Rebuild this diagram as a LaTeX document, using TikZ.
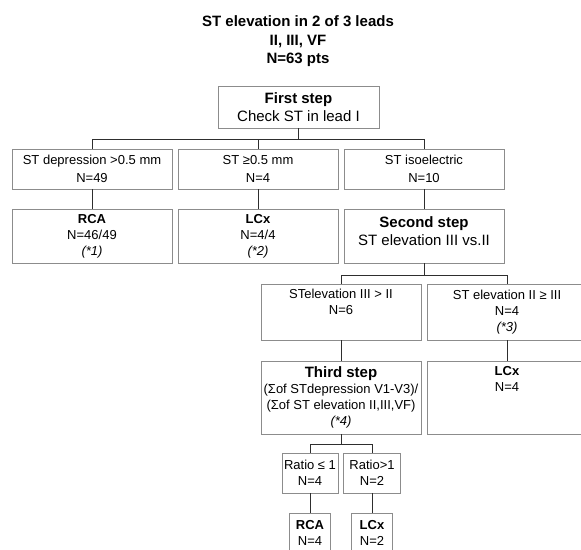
\documentclass[tikz,border=0pt]{standalone}
\usepackage{fontspec}
\setmainfont{Liberation Sans}
\usetikzlibrary{positioning}
\definecolor{boxgrey}{HTML}{8C8C8C}
\definecolor{linegrey}{HTML}{2E2E2E}

\begin{document}
\begin{tikzpicture}[x=1pt,y=-1pt,every node/.style={font=\fontsize{13}{16}\selectfont},box/.style={rectangle,draw=boxgrey,fill=white,inner sep=0pt,minimum width=160pt,align=center,line width=0.7pt},big/.style={font=\fontsize{15}{18}\selectfont},link/.style={draw=linegrey,line width=0.9pt}]
  \useasboundingbox (0,0) rectangle (581,549);
  \clip (0,0) rectangle (581,549);
  \node[font=\fontsize{15}{18.5}\selectfont\bfseries,align=center] (title) at (298,41.5) {ST elevation in 2 of 3 leads\\II, III, VF\\N=63 pts};
  \node[box,big,minimum width=161pt,minimum height=42pt] (first) at (298.5,107) {\textbf{First step}\\Check ST in lead I};
  \node[box,minimum height=40pt] (dep) at (92,169) {ST depression >0.5 mm\\[1.5pt]N=49};
  \node[box,minimum height=40pt] (geq) at (258,169) {ST ≥0.5 mm\\[1.5pt]N=4};
  \node[box,minimum height=40pt] (iso) at (424,169) {ST isoelectric\\[1.5pt]N=10};
  \node[box,minimum height=54pt] (rcaA) at (92,236) {\textbf{RCA}\\N=46/49\\\textit{(*1)}};
  \node[box,minimum height=54pt] (lcxA) at (258,236) {\textbf{LCx}\\N=4/4\\\textit{(*2)}};
  \node[box,big,minimum height=54pt] (second) at (424,236) {\textbf{Second step}\\ST elevation III vs.II\\[-13pt]\strut};
  \node[box,minimum height=56pt] (gtr) at (341,312) {STelevation III > II\\N=6\\\strut};
  \node[box,minimum height=56pt] (leq) at (507,312) {ST elevation II ≥ III\\N=4\\\textit{(*3)}};
  \node[box,minimum height=73pt] (third) at (341,397.5) {{\fontsize{15}{16}\selectfont\textbf{Third step}}\\(Σof STdepression V1-V3)/\\(Σof ST elevation II,III,VF)\\\textit{(*4)}};
  \node[box,minimum height=73pt] (lcxB) at (507,397.5) {\textbf{LCx}\\N=4\\\strut\\\strut};
  \node[box,minimum width=56pt,minimum height=40pt] (le1) at (310,473) {Ratio ≤ 1\\N=4};
  \node[box,minimum width=57pt,minimum height=40pt] (gt1) at (372,473) {Ratio>1\\N=2};
  \node[box,minimum width=41pt,minimum height=40pt] (rcaC) at (310,533) {\textbf{RCA}\\N=4};
  \node[box,minimum width=41pt,minimum height=40pt] (lcxC) at (372,533) {\textbf{LCx}\\N=2};
  % connectors
  \foreach \n in {dep,geq,iso}{\draw[link] (first.south) -- ++(0,11) -| (\n.north);}
  \draw[link] (dep) -- (rcaA);
  \draw[link] (geq) -- (lcxA);
  \draw[link] (iso) -- (second);
  \foreach \n in {gtr,leq}{\draw[link] (second.south) -- ++(0,12) -| (\n.north);}
  \draw[link] (gtr) -- (third);
  \draw[link] (leq) -- (lcxB);
  \foreach \n in {le1,gt1}{\draw[link] (third.south) -- ++(0,10) -| (\n.north);}
  \draw[link] (le1) -- (rcaC);
  \draw[link] (gt1) -- (lcxC);
\end{tikzpicture}
\end{document}
